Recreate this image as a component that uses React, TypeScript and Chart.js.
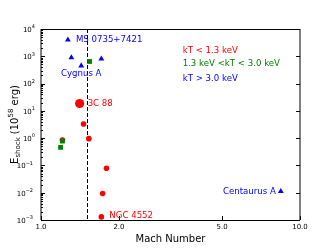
import React, { useEffect, useRef } from 'react';
import { Chart, registerables } from 'chart.js';
Chart.register(...registerables);

const RED = '#ff0000';
const GREEN = '#008000';
const BLUE = '#0000ff';

// kT < 1.3 keV
const redMach = [1.41, 1.46, 1.21, 1.53, 1.79, 1.73, 1.71];
const redE = [18.6, 3.3, 0.85, 0.96, 0.079, 0.0093, 0.0013];
const redSize = [4.6, 2.8, 2.8, 2.8, 2.8, 2.8, 2.8];
// 1.3 keV < kT < 3.0 keV
const greenMach = [1.54, 1.21, 1.19];
const greenE = [645, 0.78, 0.46];
// kT > 3.0 keV
const blueMach = [1.27, 1.31, 1.43, 1.71, 8.43];
const blueE = [4000, 900, 450, 810, 0.0112];

const xTicks = [1, 2, 5, 10];
const xTickLabels = ['1.0', '2.0', '5.0', '10.0'];
const yTickExps = [-3, -2, -1, 0, 1, 2, 3, 4];
const dashedMach = 1.5;

const legendLines = ['kT < 1.3 keV', '1.3 keV <kT < 3.0 keV', 'kT > 3.0 keV'];
const legendColors = [RED, GREEN, BLUE];

const annotations = [
  { text: 'MS 0735+7421', x: 1.27, y: 4000, dx: 8, dy: 0, align: 'left', color: BLUE },
  { text: 'Cygnus A', x: 1.43, y: 450, dx: 0, dy: 8, align: 'center', color: BLUE },
  { text: '3C 88', x: 1.41, y: 18.6, dx: 8, dy: 0, align: 'left', color: RED },
  { text: 'NGC 4552', x: 1.71, y: 0.0013, dx: 8, dy: -1, align: 'left', color: RED },
  { text: 'Centaurus A', x: 8.43, y: 0.0112, dx: -5, dy: 0, align: 'right', color: BLUE },
];

const FONT = "'DejaVu Sans', sans-serif";

const decor = {
  id: 'decor',
  beforeDatasetsDraw(chart: any) {
    const { ctx, chartArea: a, scales } = chart;
    const px = Math.round(scales.x.getPixelForValue(dashedMach)) + 0.5;
    ctx.save();
    ctx.strokeStyle = '#000';
    ctx.lineWidth = 1;
    ctx.setLineDash([4, 2]);
    ctx.beginPath();
    ctx.moveTo(px, a.top);
    ctx.lineTo(px, a.bottom);
    ctx.stroke();
    ctx.restore();
  },
  afterDatasetsDraw(chart: any) {
    const { ctx, chartArea: a, scales } = chart;
    const xs = scales.x;
    const ys = scales.y;
    ctx.save();
    // spines
    ctx.strokeStyle = '#000';
    ctx.lineWidth = 1;
    ctx.beginPath();
    ctx.moveTo(a.left, a.top); ctx.lineTo(a.left, a.bottom);
    ctx.moveTo(a.right, a.top); ctx.lineTo(a.right, a.bottom);
    ctx.moveTo(a.left, a.top + 0.5); ctx.lineTo(a.right, a.top + 0.5);
    ctx.moveTo(a.left, a.bottom + 0.5); ctx.lineTo(a.right, a.bottom + 0.5);
    ctx.stroke();

    // y ticks
    ctx.beginPath();
    yTickExps.forEach((e) => {
      const py = Math.round(ys.getPixelForValue(Math.pow(10, e))) + 0.5;
      ctx.moveTo(a.left, py); ctx.lineTo(a.left + 4, py);
      ctx.moveTo(a.right, py); ctx.lineTo(a.right - 4, py);
      if (e < 4) {
        for (let m = 2; m <= 9; m++) {
          const pm = Math.round(ys.getPixelForValue(m * Math.pow(10, e))) + 0.5;
          ctx.moveTo(a.left, pm); ctx.lineTo(a.left + 2, pm);
        }
      }
    });
    // x ticks
    xTicks.forEach((v) => {
      const px = Math.round(xs.getPixelForValue(v)) + 0.5;
      ctx.moveTo(px, a.bottom); ctx.lineTo(px, a.bottom - 4);
    });
    ctx.stroke();

    // x tick labels
    ctx.fillStyle = '#000';
    ctx.font = `7px ${FONT}`;
    ctx.textAlign = 'center';
    ctx.textBaseline = 'middle';
    xTicks.forEach((v, i) => {
      ctx.fillText(xTickLabels[i], xs.getPixelForValue(v), a.bottom + 7);
    });

    // y tick labels
    ctx.textBaseline = 'middle';
    yTickExps.forEach((e) => {
      const py = ys.getPixelForValue(Math.pow(10, e)) + 1;
      const sup = e < 0 ? '\u2212' + Math.abs(e) : String(e);
      ctx.font = `5px ${FONT}`;
      const sw = ctx.measureText(sup).width;
      const right = e < 0 ? a.left - 8 : a.left - 6;
      ctx.textAlign = 'right';
      ctx.fillText(sup, right, py - 3);
      ctx.font = `7px ${FONT}`;
      ctx.fillText('10', right - sw, py);
    });

    // axis titles
    ctx.font = `10px ${FONT}`;
    ctx.textAlign = 'center';
    ctx.textBaseline = 'alphabetic';
    ctx.fillText('Mach Number', (a.left + a.right) / 2, 241.5);

    // y title (rotated with sub/superscripts)
    const parts = [
      { t: 'E', size: 10, dy: 0 },
      { t: 'shock', size: 7, dy: 2.5 },
      { t: ' (10', size: 10, dy: 0 },
      { t: '58', size: 7, dy: -4.5 },
      { t: ' erg)', size: 10, dy: 0 },
    ];
    let total = 0;
    const widths = parts.map((p) => {
      ctx.font = `${p.size}px ${FONT}`;
      const w = ctx.measureText(p.t).width;
      total += w;
      return w;
    });
    ctx.save();
    ctx.translate(17.5, (a.top + a.bottom) / 2);
    ctx.rotate(-Math.PI / 2);
    ctx.textAlign = 'left';
    let cx = -total / 2;
    parts.forEach((p, i) => {
      ctx.font = `${p.size}px ${FONT}`;
      ctx.fillText(p.t, cx, p.dy);
      cx += widths[i];
    });
    ctx.restore();

    // annotations
    ctx.font = `8.6px ${FONT}`;
    ctx.textBaseline = 'middle';
    annotations.forEach((an) => {
      ctx.fillStyle = an.color;
      ctx.textAlign = an.align as CanvasTextAlign;
      ctx.fillText(an.text, xs.getPixelForValue(an.x) + an.dx, ys.getPixelForValue(an.y) + an.dy);
    });

    // legend text
    const lx = a.left + 0.547 * (a.right - a.left);
    const lyFracs = [0.114, 0.183, 0.26];
    ctx.textAlign = 'left';
    legendLines.forEach((t, i) => {
      ctx.fillStyle = legendColors[i];
      ctx.fillText(t, lx, a.top + lyFracs[i] * (a.bottom - a.top));
    });
    ctx.restore();
  },
};

export default function App() {
  const ref = useRef<HTMLCanvasElement>(null);
  useEffect(() => {
    document.body.style.margin = '0';
    const canvas = ref.current!;
    const chart = new Chart(canvas, {
      type: 'scatter',
      data: {
        datasets: [
          {
            label: '1.3 keV < kT < 3.0 keV',
            data: greenMach.map((x, i) => ({ x, y: greenE[i] })),
            pointStyle: 'rect',
            pointRadius: 3.4,
            pointBackgroundColor: GREEN,
            pointBorderColor: GREEN,
            pointBorderWidth: 0,
            order: 0,
          },
          {
            label: 'kT > 3.0 keV',
            data: blueMach.map((x, i) => ({ x, y: blueE[i] })),
            pointStyle: 'triangle',
            pointRadius: 3.4,
            pointBackgroundColor: BLUE,
            pointBorderColor: BLUE,
            pointBorderWidth: 0,
            order: 1,
          },
          {
            label: 'kT < 1.3 keV',
            data: redMach.map((x, i) => ({ x, y: redE[i] })),
            pointStyle: 'circle',
            pointRadius: redSize,
            pointBackgroundColor: RED,
            pointBorderColor: RED,
            pointBorderWidth: 0,
            order: 2,
          },
        ],
      } as any,
      options: {
        responsive: false,
        animation: false,
        events: [],
        layout: { padding: { left: 41, right: 33, top: 29, bottom: 29 } },
        plugins: { legend: { display: false }, tooltip: { enabled: false } },
        scales: {
          x: { type: 'logarithmic', min: 1, max: 10, display: false },
          y: { type: 'logarithmic', min: 1e-3, max: 1e4, display: false },
        },
      },
      plugins: [decor],
    });
    return () => chart.destroy();
  }, []);
  return <canvas ref={ref} width={333} height={249} style={{ display: 'block' }} />;
}
